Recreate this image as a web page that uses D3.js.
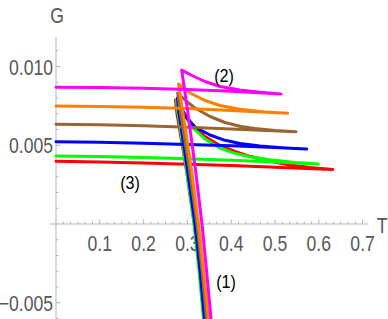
<!DOCTYPE html>
<html><head><meta charset="utf-8">
<script src="https://cdn.jsdelivr.net/npm/d3@7"></script>
<style>body{margin:0;background:#fff}svg{display:block}</style>
</head><body>
<svg id="c" width="388" height="319"></svg>
<script>
// ---- data ----
const xTickValues = [0.1, 0.2, 0.3, 0.4, 0.5, 0.6, 0.7];
const xTickLabels = ["0.1", "0.2", "0.3", "0.4", "0.5", "0.6", "0.7"];
const yTickValues = [-0.005, 0.005, 0.010];
const yTickLabels = ["\u22120.005", "0.005", "0.010"];
const seriesNames = ["red", "green", "blue", "brown", "orange", "magenta"];
const seriesColors = ["#ff0000", "#00ff00", "#0000ff", "#996633", "#ff8000", "#ff00ff"];
const curveLabels = ["(1)", "(2)", "(3)"];

// each series: [T, G] along the swallowtail (small branch -> intermediate -> large branch)
const red = [[0,0.003981],[0.1,0.003937],[0.2,0.003873],[0.3,0.003797],[0.4,0.003708],[0.5,0.003606],[0.632,0.003460],
  [0.5799,0.003581],[0.5342,0.003746],[0.4886,0.003987],[0.4429,0.004298],[0.4087,0.004603],[0.3744,0.004984],[0.3402,0.005556],[0.3128,0.006254],[0.2922,0.007048],[0.2728,0.007873],
  [0.2763,0.006984],[0.2979,0.003429],[0.3158,0],[0.3276,-0.002921],[0.3379,-0.006032],[0.3402,-0.006730]];
const green = [[0,0.004317],[0.1,0.004279],[0.2,0.004222],[0.3,0.004146],[0.4,0.004051],[0.5,0.003937],[0.5989,0.003803],
  [0.5457,0.003911],[0.4886,0.004076],[0.4429,0.004267],[0.4087,0.004489],[0.3744,0.004825],[0.3402,0.005397],[0.3128,0.006095],[0.2922,0.006921],[0.2751,0.007873],
  [0.2774,0.007238],[0.2979,0.003429],[0.3151,0],[0.3265,-0.002921],[0.3368,-0.006032],[0.3390,-0.006730]];
const blue = [[0,0.005225],[0.1,0.005187],[0.2,0.005130],[0.3,0.005054],[0.4,0.004965],[0.5,0.004857],[0.5724,0.004768],
  [0.5228,0.004832],[0.4658,0.004959],[0.4201,0.005111],[0.3858,0.005314],[0.3516,0.005651],[0.3174,0.006159],[0.2945,0.006857],[0.2774,0.008000],
  [0.2797,0.007238],[0.3002,0.003429],[0.3174,0],[0.3288,-0.002921],[0.3390,-0.006032],[0.3413,-0.006730]];
const brown = [[0,0.006330],[0.1,0.006298],[0.2,0.006235],[0.3,0.006146],[0.4,0.006032],[0.548,0.005860],
  [0.5,0.005943],[0.4543,0.006057],[0.4201,0.006210],[0.3858,0.006444],[0.3516,0.006825],[0.3174,0.007365],[0.2968,0.007810],[0.2779,0.008317],
  [0.2831,0.007238],[0.3048,0.003429],[0.3219,0],[0.3333,-0.002921],[0.3436,-0.006032],[0.3459,-0.006730]];
const orange = [[0,0.007492],[0.1,0.007467],[0.2,0.007410],[0.3,0.007327],[0.4,0.007206],[0.529,0.007029],
  [0.4772,0.007117],[0.4201,0.007289],[0.3744,0.007524],[0.3402,0.007841],[0.3059,0.008317],[0.2797,0.008889],
  [0.2888,0.007238],[0.3094,0.003429],[0.3253,0],[0.3368,-0.002921],[0.3482,-0.006032],[0.3505,-0.006730]];
const magenta = [[0,0.008679],[0.1,0.008660],[0.2,0.008616],[0.3,0.008540],[0.4,0.008432],[0.5137,0.008254],
  [0.4658,0.008362],[0.4201,0.008508],[0.3744,0.008730],[0.3402,0.009048],[0.3105,0.009429],[0.2870,0.009778],
  [0.3002,0.007238],[0.3185,0.003429],[0.3333,0],[0.3436,-0.002921],[0.3539,-0.006032],[0.3562,-0.006730]];
const seriesData = [red, green, blue, brown, orange, magenta];

// ---- drawing ----
const svg = d3.select("#c");
const W = 388, H = 319;
const x = d3.scaleLinear().domain([0, 0.7]).range([56, 362.6]);
const y = d3.scaleLinear().domain([0, 0.01]).range([224, 66.5]);
const axisColor = "#b5b5b5", labelColor = "#585858";
const fontFam = "'Liberation Sans', Arial, sans-serif";

function narrowText(px, py, str, anchor, size, color, sx) {
  svg.append("g").attr("transform", `translate(${px},${py}) scale(${sx || 0.8},1)`)
    .append("text").attr("x", 0).attr("y", 0)
    .attr("text-anchor", anchor).attr("font-family", fontFam)
    .attr("font-size", size).attr("fill", color).text(str);
}

// axes lines
svg.append("line").attr("x1", 50).attr("x2", 368).attr("y1", y(0)).attr("y2", y(0))
  .attr("stroke", axisColor).attr("stroke-width", 1);
svg.append("line").attr("x1", x(0)).attr("x2", x(0)).attr("y1", 37).attr("y2", H)
  .attr("stroke", axisColor).attr("stroke-width", 1);

// x ticks (minor every 1/60)
for (let k = 1; k <= 42; k++) {
  const t = k / 60;
  const major = k % 6 === 0;
  svg.append("line").attr("x1", x(t)).attr("x2", x(t))
    .attr("y1", y(0)).attr("y2", y(0) - (major ? 4.5 : 2.5))
    .attr("stroke", axisColor).attr("stroke-width", 1);
}
// y ticks (minor every 0.001)
for (let k = -6; k <= 11; k++) {
  if (k === 0) continue;
  const g = k / 1000;
  const major = k % 5 === 0;
  svg.append("line").attr("x1", x(0)).attr("x2", x(0) + (major ? 4.5 : 2.5))
    .attr("y1", y(g)).attr("y2", y(g))
    .attr("stroke", axisColor).attr("stroke-width", 1);
}

// tick labels
xTickValues.forEach((v, i) => narrowText(x(v), 250.5, xTickLabels[i], "middle", 22, labelColor));
yTickValues.forEach((v, i) => narrowText(53, y(v) + 8, yTickLabels[i], "end", 22, labelColor));

// axis labels
narrowText(57, 23, "G", "middle", 22, labelColor);
narrowText(382, 232.5, "T", "middle", 22, labelColor);

// curves
svg.append("clipPath").attr("id", "clip").append("rect")
  .attr("x", 40).attr("y", 30).attr("width", 340).attr("height", H - 30);
const line = d3.line().x(d => x(d[0])).y(d => y(d[1])).curve(d3.curveLinear);
const gCurves = svg.append("g").attr("clip-path", "url(#clip)");
seriesData.forEach((s, i) => {
  gCurves.append("path").attr("d", line(s)).attr("fill", "none")
    .attr("stroke", seriesColors[i]).attr("stroke-width", 3)
    .attr("stroke-linejoin", "round").attr("stroke-linecap", "round");
});

// curve labels
narrowText(226, 288, curveLabels[0], "middle", 19, "#000", 0.85);
narrowText(224, 82, curveLabels[1], "middle", 19, "#000", 0.85);
narrowText(130, 189, curveLabels[2], "middle", 19, "#000", 0.85);
</script>
</body></html>
